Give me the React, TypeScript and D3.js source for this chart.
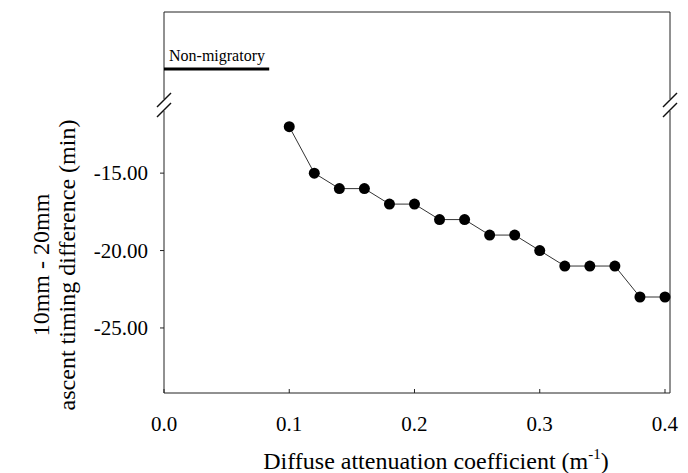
import React from 'react'
import * as d3 from 'd3'

const attenuation = [0.1, 0.12, 0.14, 0.16, 0.18, 0.2, 0.22, 0.24, 0.26, 0.28, 0.3, 0.32, 0.34, 0.36, 0.38, 0.4]
const timingDiff = [-12, -15, -16, -16, -17, -17, -18, -18, -19, -19, -20, -21, -21, -21, -23, -23]
const xTicks = [0, 0.1, 0.2, 0.3, 0.4]
const yTicks = [-15, -20, -25]
const nonMigratoryRange = [0, 0.084]

const W = 688
const H = 473
const left = 164
const right = 670
const top = 12
const bottom = 393
const breakY = 105

const font = "'Liberation Serif', 'DejaVu Serif', serif"

export default function App() {
  const x = d3.scaleLinear().domain([0, 0.404]).range([left, right])
  const y = d3.scaleLinear().domain([-29.2, -10.6]).range([bottom, breakY])

  const line = d3
    .line<number>()
    .x((_, i) => x(attenuation[i]))
    .y((d) => y(d))

  // little "//" break marks on an axis
  const breakMarks = (cx: number) =>
    [-5, 5].map((dy, i) => (
      <line
        key={i}
        x1={cx - 7}
        y1={breakY + dy + 7}
        x2={cx + 7}
        y2={breakY + dy - 7}
        stroke="#111"
        strokeWidth={1.4}
      />
    ))

  return (
    <svg
      width={W}
      height={H}
      style={{ position: 'absolute', left: 0, top: 0, background: '#fff', fontFamily: font }}
    >
      {/* frame: top and upper axis segments */}
      <line x1={left} y1={top} x2={right} y2={top} stroke="#222" strokeWidth={1} />
      <line x1={left} y1={top} x2={left} y2={breakY - 6} stroke="#222" strokeWidth={1} />
      <line x1={right} y1={top} x2={right} y2={breakY - 6} stroke="#222" strokeWidth={1} />
      {/* lower axis segments */}
      <line x1={left} y1={breakY + 6} x2={left} y2={bottom} stroke="#222" strokeWidth={1} />
      <line x1={right} y1={breakY + 6} x2={right} y2={bottom} stroke="#222" strokeWidth={1} />
      <line x1={left} y1={bottom} x2={right} y2={bottom} stroke="#222" strokeWidth={1} />
      {breakMarks(left)}
      {breakMarks(right)}

      {/* non-migratory bar */}
      <line
        x1={x(nonMigratoryRange[0])}
        x2={x(nonMigratoryRange[1])}
        y1={69}
        y2={69}
        stroke="#000"
        strokeWidth={3}
      />
      <text x={left + 5} y={61} fontSize={16}>
        Non-migratory
      </text>

      {/* y ticks */}
      {yTicks.map((t) => (
        <g key={t}>
          <line x1={left - 4} x2={left} y1={y(t)} y2={y(t)} stroke="#222" />
          <text x={148} y={y(t)} dy="0.35em" textAnchor="end" fontSize={21}>
            {t.toFixed(2)}
          </text>
        </g>
      ))}

      {/* x ticks */}
      {xTicks.map((t) => (
        <g key={t}>
          <line x1={x(t)} x2={x(t)} y1={bottom - 4} y2={bottom} stroke="#222" />
          <text x={x(t)} y={431} textAnchor="middle" fontSize={21}>
            {t.toFixed(1)}
          </text>
        </g>
      ))}

      {/* series */}
      <path d={line(timingDiff) || ''} fill="none" stroke="#333" strokeWidth={1} />
      {timingDiff.map((v, i) => (
        <circle key={i} cx={x(attenuation[i])} cy={y(v)} r={5.5} fill="#000" />
      ))}

      {/* axis titles */}
      <g transform="translate(41,265) rotate(-90)">
        <text textAnchor="middle" fontSize={24} dy="0.35em">
          10mm - 20mm
        </text>
      </g>
      <g transform="translate(67,265) rotate(-90)">
        <text textAnchor="middle" fontSize={24} dy="0.35em">
          ascent timing difference (min)
        </text>
      </g>
      <text x={436} y={469} textAnchor="middle" fontSize={24}>
        Diffuse attenuation coefficient (m
        <tspan fontSize={15} dy={-10}>-1</tspan>
        <tspan dy={10}>)</tspan>
      </text>
    </svg>
  )
}
